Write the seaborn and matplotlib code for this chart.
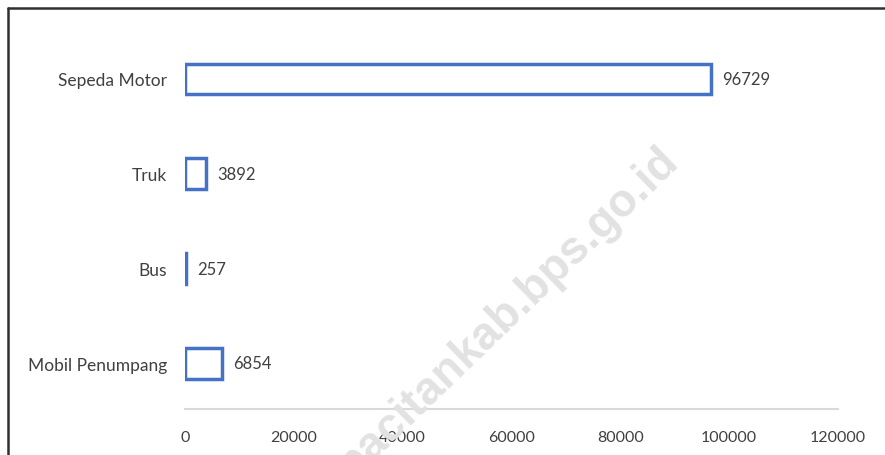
import matplotlib
matplotlib.use("Agg")
import matplotlib.pyplot as plt
from matplotlib.lines import Line2D
import pandas as pd
import seaborn as sns

# Jumlah kendaraan menurut jenis
categories = ["Sepeda Motor", "Truk", "Bus", "Mobil Penumpang"]
values = [96729, 3892, 257, 6854]
x_ticks = [0, 20000, 40000, 60000, 80000, 100000, 120000]

df = pd.DataFrame({"jenis": categories, "jumlah": values})

sns.set_style("white")
plt.rcParams["font.family"] = ["Lato", "DejaVu Sans"]

text_color = "#404040"
blue = "#4472C4"

fig = plt.figure(figsize=(8.85, 4.56), dpi=100)
ax = fig.add_axes([0.209, 0.101, 0.738, 0.828])

sns.barplot(data=df, x="jumlah", y="jenis", orient="h", ax=ax,
            width=0.32, facecolor="white", edgecolor=blue, linewidth=2.5)

for container in ax.containers:
    ax.bar_label(container, labels=[str(v) for v in values], padding=8,
                 fontsize=12, color=text_color)

ax.set_xlim(0, 120000)
ax.set_ylim(len(categories) - 0.52, -0.5)
ax.set_xticks(x_ticks)
ax.set_xticklabels([str(t) for t in x_ticks])
ax.set_xlabel("")
ax.set_ylabel("")
ax.tick_params(axis="x", length=0, pad=15, labelsize=11.5, labelcolor=text_color)
ax.tick_params(axis="y", length=0, pad=13, labelsize=12.5, labelcolor=text_color)

for side in ["top", "right", "left"]:
    ax.spines[side].set_visible(False)
ax.spines["bottom"].set_color("#d9d9d9")
ax.spines["bottom"].set_linewidth(1.5)

# watermark
fig.text(0.574, 0.314, "pacitankab.bps.go.id", rotation=44, ha="center", va="center",
         fontsize=33, fontweight="bold", family="Liberation Sans",
         color="#e2e2e2", zorder=0)

# frame of the original picture
fig.add_artist(Line2D([8 / 885, 1], [1 - 9 / 456, 1 - 9 / 456], color="#303030", linewidth=1.8))
fig.add_artist(Line2D([8 / 885, 8 / 885], [0, 1 - 9 / 456], color="#303030", linewidth=1.8))

fig.savefig("out.png", dpi=100)
